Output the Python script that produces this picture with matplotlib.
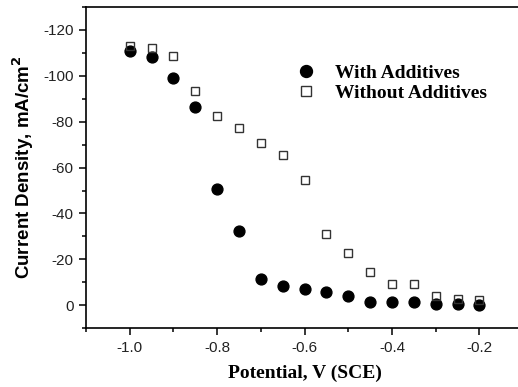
import matplotlib
matplotlib.use('Agg')
from matplotlib import pyplot as plt
from matplotlib.ticker import MultipleLocator

# potential (V vs SCE)
potential = [-1.0, -0.95, -0.9, -0.85, -0.8, -0.75, -0.7, -0.65, -0.6,
             -0.55, -0.5, -0.45, -0.4, -0.35, -0.3, -0.25, -0.2]

# current density, mA/cm^2
with_additives = [-110.6, -108.4, -99.0, -86.4, -50.7, -32.2, -11.3, -8.4, -7.1,
                  -5.8, -3.9, -1.2, -1.2, -1.2, -0.6, -0.6, -0.3]
without_additives = [-112.8, -112.3, -108.7, -93.5, -82.6, -77.4, -70.7, -65.6, -54.7,
                     -31.1, -22.8, -14.5, -9.4, -9.3, -3.9, -2.8, -2.3]

fig = plt.figure(figsize=(5.18, 3.87), dpi=100)
ax = fig.add_axes([0.166, 0.152, 0.844, 0.830])

ax.plot(potential, with_additives, 'o', color='black', markersize=7.8,
        linestyle='none', label='With Additives')
ax.plot(potential, without_additives, 's', markerfacecolor='none',
        markeredgecolor='#333333', markeredgewidth=1.0, markersize=6.3,
        linestyle='none', label='Without Additives')

ax.set_xlim(-1.1, -0.1)
ax.set_ylim(10, -130)  # inverted axis
ax.xaxis.set_minor_locator(MultipleLocator(0.1))
ax.yaxis.set_minor_locator(MultipleLocator(10))
ax.set_xticks([-1.0, -0.8, -0.6, -0.4, -0.2])
ax.set_xticklabels(['-1.0', '-0.8', '-0.6', '-0.4', '-0.2'])
ax.set_yticks([0, -20, -40, -60, -80, -100, -120])
ax.set_yticklabels(['0', '-20', '-40', '-60', '-80', '-100', '-120'])

ax.tick_params(which='major', direction='out', length=5, width=1.1,
               labelsize=11, top=False, right=False, pad=4)
ax.tick_params(which='minor', direction='out', length=3, width=1.1,
               top=False, right=False)
for lab in ax.get_xticklabels() + ax.get_yticklabels():
    lab.set_family('Liberation Sans')
    lab.set_color('#222222')
for s in ax.spines.values():
    s.set_linewidth(1.2)

ax.set_xlabel('Potential, V (SCE)', family='Liberation Serif', fontweight='bold',
              fontsize=14, labelpad=7)
ax.set_ylabel('Current Density, mA/cm$^\\mathbf{2}$', family='Liberation Sans',
              fontweight='bold', fontsize=13.5, labelpad=5)

leg = ax.legend(loc='upper left', bbox_to_anchor=(0.454, 0.851), frameon=False,
                prop={'family': 'Liberation Serif', 'weight': 'bold', 'size': 14},
                handletextpad=0.9, labelspacing=0.1, borderpad=0, handlelength=1.2,
                markerscale=1.1)

fig.savefig('out.png', dpi=100)
